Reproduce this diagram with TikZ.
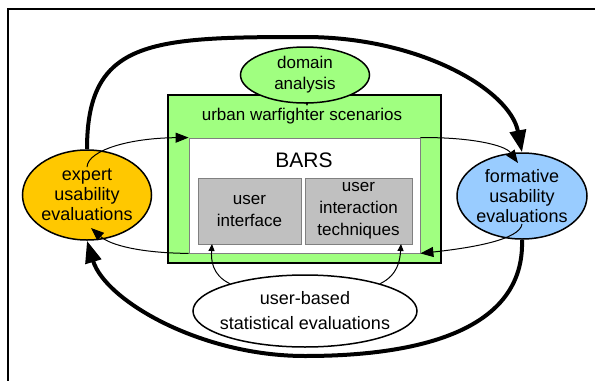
\documentclass[tikz,border=0pt]{standalone}
\usepackage{fontspec}
\setmainfont{Liberation Sans}
\usetikzlibrary{shapes.geometric,arrows.meta}
\definecolor{lgreen}{RGB}{160,255,128}
\definecolor{gold}{RGB}{255,200,0}
\definecolor{lblue}{RGB}{153,204,255}
\definecolor{boxgray}{RGB}{192,192,192}
\begin{document}
\begin{tikzpicture}[x=1pt,y=-1pt,
  ell/.style={ellipse,draw=black,line width=1.5pt,inner sep=0pt},
  txtA/.style={font=\fontsize{18}{20}\selectfont,align=center},
  txtB/.style={font=\fontsize{17}{21}\selectfont,align=center},
  graybox/.style={draw=black!50,fill=boxgray,line width=0.8pt,inner sep=0pt,align=center,font=\fontsize{17}{22}\selectfont},
  bigarrow/.style={line width=4pt,-{Triangle[length=22pt,width=16pt]}},
  thinarrow/.style={line width=1pt,-{Triangle[length=13pt,width=10pt]}},
  smallarrow/.style={line width=1pt,-{Triangle[length=7pt,width=6pt]}}
]
\useasboundingbox (0,0) rectangle (595,381);
\fill[white] (0,0) rectangle (595,381);
% frame
\draw[line width=1.5pt] (595,9) -- (8,9) -- (8,381);
% urban scenarios rectangle
\node[draw=black,line width=2.5pt,fill=lgreen,minimum width=273pt,minimum height=168pt,inner sep=0pt] (urban) at (304.5,179) {};
\node[draw=black!50,line width=0.8pt,fill=white,minimum width=231pt,minimum height=115pt,inner sep=0pt] (bars) at (304.5,195.5) {};
\node[txtB] (urbanlbl) at (302,116) {urban warfighter scenarios};
\node[font=\fontsize{21}{25}\selectfont] (barslbl) at (304,160) {BARS};
% gray boxes
\node[graybox,minimum width=103pt,minimum height=66pt] (ui) at (249.5,211) {user\\interface};
\node[graybox,minimum width=107pt,minimum height=66pt] (uit) at (358.5,211) {user\\interaction\\techniques};
% domain arrow + ellipse
\coordinate (domstart) at (307,95);
\coordinate (domtip) at (307,106);
\draw[smallarrow] (domstart) -- (domtip);
\node[ell,fill=lgreen,minimum width=129pt,minimum height=56pt,
  label={[txtB]center:{domain\\analysis}}] (dom) at (305,75) {};
% side ellipses
\node[ell,fill=gold,minimum width=129pt,minimum height=90pt,
  label={[txtA]center:{expert\\usability\\evaluations}}] (exp) at (87,195) {};
\node[ell,fill=lblue,minimum width=130pt,minimum height=86pt,
  label={[txtA]center:{formative\\usability\\evaluations}}] (form) at (522,196) {};
\node[ell,fill=white,minimum width=224pt,minimum height=72pt,
  label={[font=\fontsize{18}{25}\selectfont,align=center]center:{user-based\\statistical evaluations}}] (ub) at (305,311) {};
% coordinates
\coordinate (expin) at (87,167);
\coordinate (expin2) at (91,228);
\coordinate (formin) at (518,163);
\coordinate (formin2) at (522,224);
\coordinate (uitip) at (212,244);
\coordinate (uittip) at (401,244);
% thick arrows
\draw[bigarrow] (exp.north) .. controls (87,40) and (150,37) .. (305,37) .. controls (420,37) and (510,90) .. (form.north);
\draw[bigarrow] (form.south) .. controls (525,330) and (420,356) .. (305,356) .. controls (200,356) and (105,300) .. (exp.south);
% thin arrows
\draw[thinarrow] (expin) .. controls (88,150) and (130,138) .. (bars.north west);
\draw[thinarrow] (bars.north east) .. controls (470,137) and (505,145) .. (formin);
\draw[thinarrow] (formin2) .. controls (520,240) and (470,248) .. (bars.south east);
\draw[thinarrow] (bars.south west) .. controls (140,253) and (110,245) .. (expin2);
\draw[smallarrow] (ub.160) .. controls (212,275) and (211,260) .. (uitip);
\draw[smallarrow] (ub.20) .. controls (398,275) and (400,260) .. (uittip);
\end{tikzpicture}
\end{document}
